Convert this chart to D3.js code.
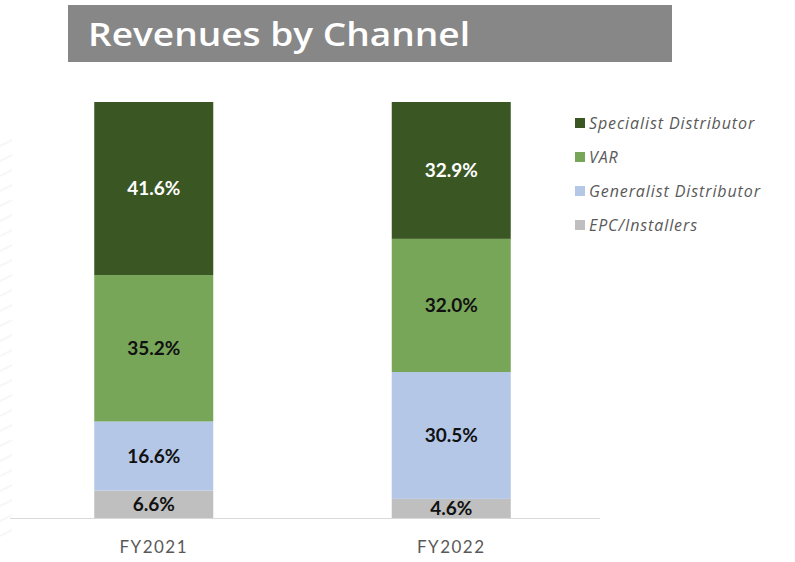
<!DOCTYPE html>
<html>
<head>
<meta charset="utf-8">
<script src="https://cdn.jsdelivr.net/npm/d3@7"></script>
<style>
html,body{margin:0;padding:0;background:#fff;}
svg{display:block;}
</style>
</head>
<body>
<svg id="chart" width="795" height="562"></svg>
<script>
const categories = ["FY2021", "FY2022"];
const seriesNames = ["EPC/Installers", "Generalist Distributor", "VAR", "Specialist Distributor"];
const epc = [6.6, 4.6];
const generalist = [16.6, 30.5];
const varValues = [35.2, 32.0];
const specialist = [41.6, 32.9];
const colors = ["#bfbfbf", "#b4c7e7", "#78a659", "#3a5723"];
const labelColors = ["#111", "#111", "#111", "#fff"];

const series = [epc, generalist, varValues, specialist];
const svg = d3.select("#chart");

// faint pattern on left
const pat = svg.append("g");
for (let yy = 140; yy < 540; yy += 15) {
  pat.append("line").attr("x1", 0).attr("y1", yy + 6).attr("x2", 12).attr("y2", yy)
    .attr("stroke", "#f7f7f7").attr("stroke-width", 2);
}

// title
svg.append("rect").attr("x", 68).attr("y", 5).attr("width", 604).attr("height", 57).attr("fill", "#878787");
svg.append("text").attr("x", 88).attr("y", 46).attr("fill", "#fff")
  .attr("font-family", "'Open Sans', Lato, sans-serif").attr("font-weight", 600)
  .attr("font-size", 33).attr("textLength", 382).attr("lengthAdjust", "spacingAndGlyphs")
  .text("Revenues by Channel");

const x = d3.scaleBand().domain(categories).range([5, 600]).paddingInner(0.6).paddingOuter(0.3);
const y = d3.scaleLinear().domain([0, 100]).range([518, 102]);

const table = categories.map((c, i) => {
  const o = {cat: c};
  seriesNames.forEach((s, j) => o[s] = series[j][i]);
  return o;
});
const stacked = d3.stack().keys(seriesNames)(table);

stacked.forEach((layer, j) => {
  const g = svg.append("g");
  g.selectAll("rect").data(layer).join("rect")
    .attr("x", d => x(d.data.cat))
    .attr("y", d => y(d[1]))
    .attr("width", x.bandwidth())
    .attr("height", d => y(d[0]) - y(d[1]))
    .attr("fill", colors[j]);
  g.selectAll("text").data(layer).join("text")
    .attr("x", d => x(d.data.cat) + x.bandwidth() / 2)
    .attr("y", d => (y(d[0]) + y(d[1])) / 2)
    .attr("dy", "0.36em")
    .attr("text-anchor", "middle")
    .attr("font-family", "Lato, 'Open Sans', sans-serif")
    .attr("font-weight", 700)
    .attr("font-size", 19)
    .attr("fill", labelColors[j])
    .text(d => (d[1] - d[0]).toFixed(1) + "%");
});

// axis
const axis = svg.append("g").attr("transform", "translate(0,518)")
  .call(d3.axisBottom(x).tickSize(0).tickPadding(23));
axis.select(".domain").attr("stroke", "#d9d9d9").attr("d", "M10,0.5H600");
axis.selectAll("text").attr("font-family", "Lato, 'Open Sans', sans-serif")
  .attr("font-size", 17).attr("fill", "#595959").attr("letter-spacing", "1.5px");

// legend
const legendOrder = [3, 2, 1, 0];
const lg = svg.append("g");
legendOrder.forEach((j, k) => {
  const cy = 123 + k * 34;
  lg.append("rect").attr("x", 575).attr("y", cy - 5).attr("width", 10).attr("height", 10).attr("fill", colors[j]);
  lg.append("text").attr("x", 589).attr("y", cy).attr("dy", "0.35em")
    .attr("font-family", "'Open Sans', Lato, sans-serif").attr("font-style", "italic")
    .attr("font-size", 16).attr("letter-spacing", "0.9px").attr("fill", "#595959").text(seriesNames[j]);
});
</script>
</body>
</html>
